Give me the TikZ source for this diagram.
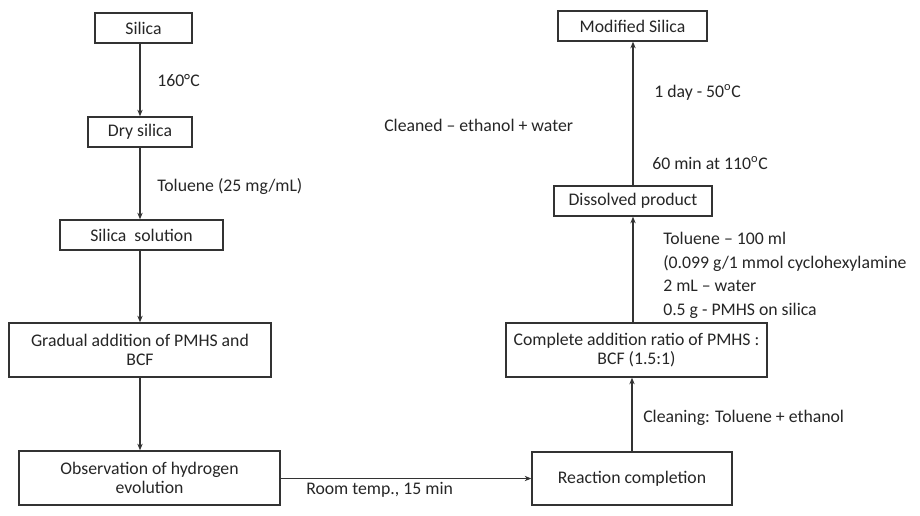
\documentclass[tikz,border=0pt]{standalone}
\usepackage{fontspec}
\setmainfont{Carlito}
\usetikzlibrary{arrows.meta}
\begin{document}
\begin{tikzpicture}[x=0.75pt,y=-0.75pt,
  box/.style={draw=black!80, line width=1pt, fill=white, align=center, inner sep=0pt,
    font=\fontsize{13.3}{14}\selectfont, text=black!85},
  lbl/.style={anchor=west, inner sep=0pt, font=\fontsize{13.3}{14}\selectfont, text=black!85},
  arr/.style={-{Stealth[length=5pt,width=4pt]}, line width=0.8pt, draw=black!80}]
\useasboundingbox[fill=white] (0,0) rectangle (920,515);
% left column
\node[box, minimum width=72.75pt, minimum height=22.5pt] (silica) at (143.5,28) {Silica};
\node[box, minimum width=78pt, minimum height=22.5pt] (dry) at (140,132) {Dry silica};
\node[box, minimum width=122.25pt, minimum height=22.5pt] (sol) at (141.5,235) {Silica\ \ solution};
\node[box, minimum width=196.5pt, minimum height=40.5pt] (grad) at (140,350) {Gradual addition of PMHS and\\BCF};
\node[box, minimum width=195.75pt, minimum height=40.5pt] (obs) at (149.5,478) {Observation of hydrogen\\evolution};
% right column
\node[box, minimum width=150pt, minimum height=39.75pt] (react) at (632,478.5) {Reaction completion};
\node[box, minimum width=195.75pt, minimum height=40.5pt] (compl) at (636.5,350) {Complete addition ratio of PMHS :\\BCF (1.5:1)};
\node[box, minimum width=118.5pt, minimum height=22.5pt] (diss) at (633,201) {Dissolved product};
\node[box, minimum width=111.75pt, minimum height=22.5pt] (mod) at (632.5,26) {Modified Silica};
% connectors
\draw[arr] (silica.south -| dry.north) -- (dry.north);
\draw[arr] (dry.south) -- (dry.south |- sol.north);
\draw[arr] (sol.south -| grad.north) -- (grad.north);
\draw[arr] (grad.south) -- (grad.south |- obs.north);
\draw[arr] (obs.east |- react.west) -- (react.west);
\draw[arr] (react.north) -- (react.north |- compl.south);
\draw[arr] (diss.south |- compl.north) -- (diss.south);
\draw[arr] (diss.north) -- (diss.north |- mod.south);
% labels
\node[lbl] (l1) at (157,80) {160°C};
\node[lbl] (l2) at (157,187) {Toluene (25 mg/mL)};
\node[lbl] (l3) at (306,490) {Room temp., 15 min};
\node[lbl] (l4) at (643,418) {Cleaning: Toluene + ethanol};
\node[lbl, anchor=north west, align=left, font=\fontsize{13.3}{17.75}\selectfont] (l5) at (663,232)
  {Toluene – 100 ml\\(0.099 g/1 mmol cyclohexylamine\\2 mL – water\\0.5 g - PMHS on silica};
\node[lbl] (l6) at (652,163) {60 min at 110\textsuperscript{o}C};
\node[lbl] (l7) at (654,92) {1 day - 50\textsuperscript{o}C};
\node[lbl] (l8) at (384,125) {Cleaned – ethanol + water};
\end{tikzpicture}
\end{document}
